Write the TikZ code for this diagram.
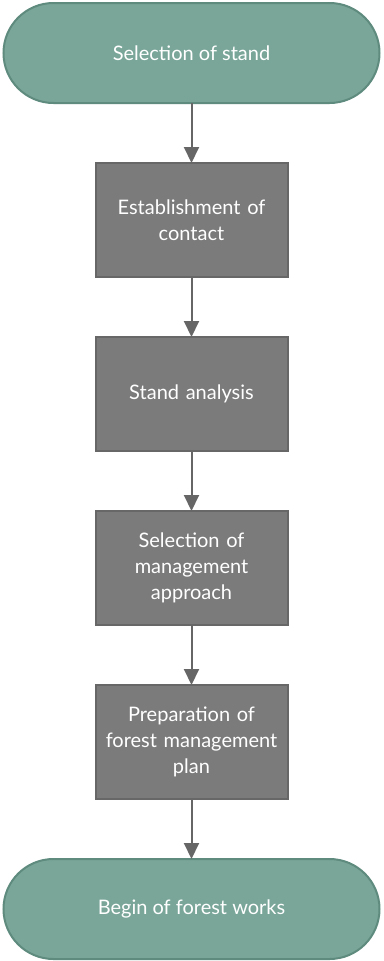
\documentclass[tikz,border=0pt]{standalone}
\usepackage{fontspec}
\setmainfont{Lato}
\usetikzlibrary{positioning, arrows.meta}
\definecolor{termfill}{HTML}{79A699}
\definecolor{termline}{HTML}{5E8B7E}
\definecolor{boxfill}{HTML}{7B7B7B}
\definecolor{boxline}{HTML}{676767}
\definecolor{arrowgray}{HTML}{666666}

\begin{document}
\begin{tikzpicture}[
    x=1pt, y=1pt,
    node distance=60pt,
    every node/.style={align=center, text=white, outer sep=0pt, font=\fontsize{20pt}{26pt}\selectfont},
    terminal/.style={draw=termline, fill=termfill, line width=2pt, rounded corners=50pt,
                     minimum width=376pt, minimum height=100pt},
    process/.style={draw=boxline, fill=boxfill, line width=2pt, text width=186pt,
                    minimum width=192pt, minimum height=114pt, inner sep=2pt},
    flowarrow/.style={-{Triangle[width=15pt, length=16pt]}, line width=2pt, draw=arrowgray}
]
\useasboundingbox (0,0) rectangle (383,-961);

% Start und Ende
\node[terminal] (start) at (191.5,-53) {Selection of stand};

% Arbeitsschritte
\node[process, below=of start] (contact) {Establishment of\\contact};
\node[process, below=of contact] (analysis) {Stand analysis};
\node[process, below=of analysis] (approach) {Selection of\\management\\approach};
\node[process, below=of approach] (plan) {Preparation of\\forest management\\plan};

\node[terminal, below=of plan] (works) {Begin of forest works};

% Verbindungen
\draw[flowarrow] (start) -- (contact);
\draw[flowarrow] (contact) -- (analysis);
\draw[flowarrow] (analysis) -- (approach);
\draw[flowarrow] (approach) -- (plan);
\draw[flowarrow] (plan) -- (works);

\end{tikzpicture}
\end{document}
